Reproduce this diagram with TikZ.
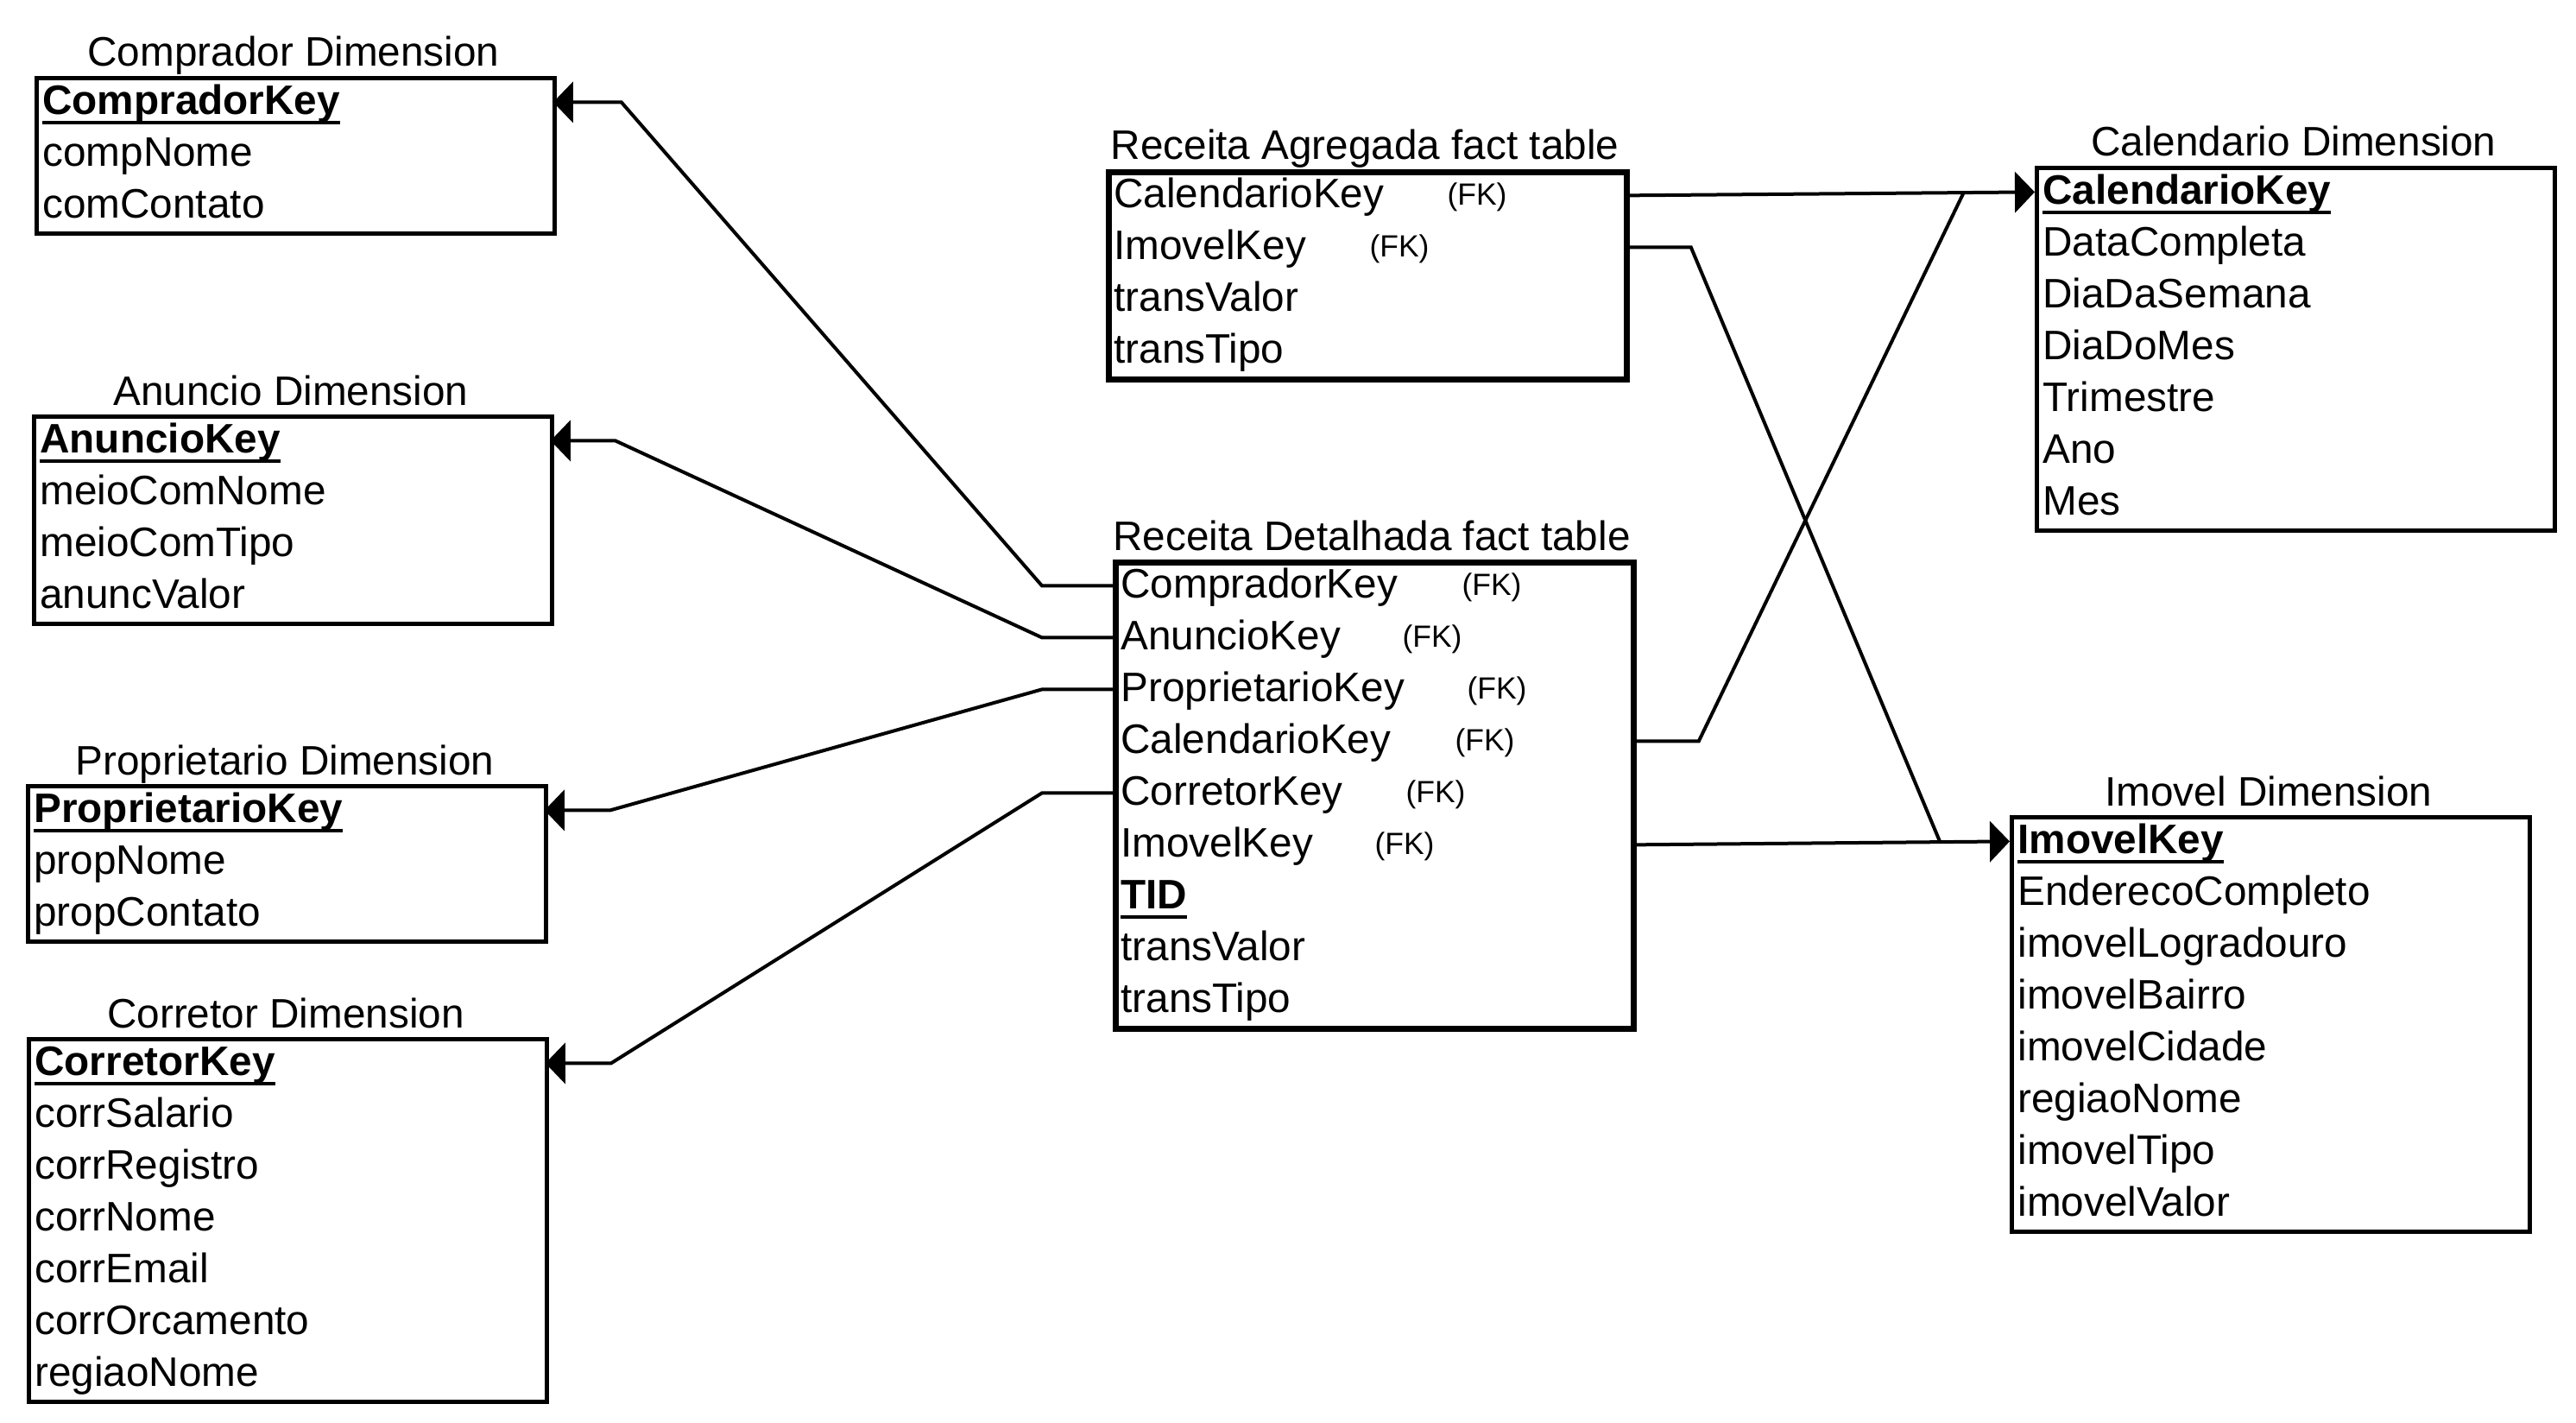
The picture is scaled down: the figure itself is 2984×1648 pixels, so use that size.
\documentclass[tikz,border=0pt]{standalone}
\usepackage{fontspec}
\setmainfont{Liberation Sans}
\usetikzlibrary{arrows.meta,calc}
\newsavebox\ukeybox
\newcommand\ukey[1]{\sbox\ukeybox{\bfseries #1}\rlap{\rule[-6pt]{\wd\ukeybox}{2pt}}\usebox\ukeybox}
\newcommand\mainsz{\fontsize{23.85pt}{28pt}\selectfont}
\newcommand\fksz{\fontsize{17.75pt}{21pt}\selectfont}
\tikzset{
  tablebox/.style={draw, line width=2.5pt, minimum width=300pt, inner sep=0pt, anchor=north west},
  facttable/.style={tablebox, line width=3.6pt},
  rowbox/.style={anchor=north west, minimum height=30pt, text width=291pt, inner xsep=4.5pt, inner ysep=0pt, align=left, text height=20pt, text depth=6pt, font=\mainsz},
  titlelbl/.style={anchor=base, font=\mainsz, inner sep=0pt},
  fk/.style={anchor=base, font=\fksz, inner sep=0pt},
  conn/.style={line width=2pt},
  arr/.style={conn, -{Triangle[length=11.5pt, width=23.5pt]}},
}
% style, name, left, top, nrows, title, rows
\newcommand\dbtable[7]{%
  \node[#1, minimum height=#5*30pt] (#2) at (#3,#4) {};
  \node[titlelbl] (#2-title) at ({#3+300},{#4-11}) {#6};
  \foreach \t [count=\i from 0] in {#7} {\node[rowbox] (#2-\i) at (#3,{#4+60*\i}) {\t};}
}
\begin{document}
\begin{tikzpicture}[x=0.5pt, y=-0.5pt]
\useasboundingbox[fill=white] (0,0) rectangle (2984,1648);

\dbtable{tablebox}{comp}{40}{88}{3}{Comprador Dimension}{\ukey{CompradorKey}, compNome, comContato}
\dbtable{tablebox}{anu}{37}{480}{4}{Anuncio Dimension}{\ukey{AnuncioKey}, meioComNome, meioComTipo, anuncValor}
\dbtable{tablebox}{prop}{30}{908}{3}{Proprietario Dimension}{\ukey{ProprietarioKey}, propNome, propContato}
\dbtable{tablebox}{corr}{31}{1201}{7}{Corretor Dimension}{\ukey{CorretorKey}, corrSalario, corrRegistro, corrNome, corrEmail, corrOrcamento, regiaoNome}
\dbtable{facttable}{agr}{1281}{196}{4}{Receita Agregada fact table}{CalendarioKey, ImovelKey, transValor, transTipo}
\dbtable{facttable}{det}{1289}{648}{9}{Receita Detalhada fact table}{CompradorKey, AnuncioKey, ProprietarioKey, CalendarioKey, CorretorKey, ImovelKey, \ukey{TID}, transValor, transTipo}
\dbtable{tablebox}{cal}{2357}{192}{7}{Calendario Dimension}{\ukey{CalendarioKey}, DataCompleta, DiaDaSemana, DiaDoMes, Trimestre, Ano, Mes}
\dbtable{tablebox}{imo}{2328}{944}{8}{Imovel Dimension}{\ukey{ImovelKey}, EnderecoCompleto, imovelLogradouro, imovelBairro, imovelCidade, regiaoNome, imovelTipo, imovelValor}

% FK labels
\node[fk] (agr-fk0) at ($(agr-0.west)+(430,11)$) {(FK)};
\node[fk] (agr-fk1) at ($(agr-1.west)+(340,11)$) {(FK)};
\node[fk] (det-fk0) at ($(det-0.west)+(439,11)$) {(FK)};
\node[fk] (det-fk1) at ($(det-1.west)+(370,11)$) {(FK)};
\node[fk] (det-fk2) at ($(det-2.west)+(445,11)$) {(FK)};
\node[fk] (det-fk3) at ($(det-3.west)+(431,11)$) {(FK)};
\node[fk] (det-fk4) at ($(det-4.west)+(374,11)$) {(FK)};
\node[fk] (det-fk5) at ($(det-5.west)+(338,11)$) {(FK)};

% connectors to the right
\coordinate (calj) at ($(cal-0.west)+(-82,0)$);
\coordinate (imoj) at ($(imo-0.west)+(-81,0)$);
\draw[arr] (agr-0.east) -- (cal-0.west);
\draw[conn] (det-3.east) -- ++(78,0) -- (calj);
\draw[conn] (agr-1.east) -- ++(77,0) -- (imoj);
\draw[arr] (det-5.east) -- (imo-0.west);

% connectors to the left
\draw[arr] (det-0.west) -- ++(-82,0) -- ($(comp-0.east)+(79,0)$) -- (comp-0.east);
\draw[arr] (det-1.west) -- ++(-82,0) -- ($(anu-0.east)+(75,0)$) -- (anu-0.east);
\draw[arr] (det-2.west) -- ++(-82,0) -- ($(prop-0.east)+(76,0)$) -- (prop-0.east);
\draw[arr] (det-4.west) -- ++(-82,0) -- ($(corr-0.east)+(76,0)$) -- (corr-0.east);
\end{tikzpicture}
\end{document}
